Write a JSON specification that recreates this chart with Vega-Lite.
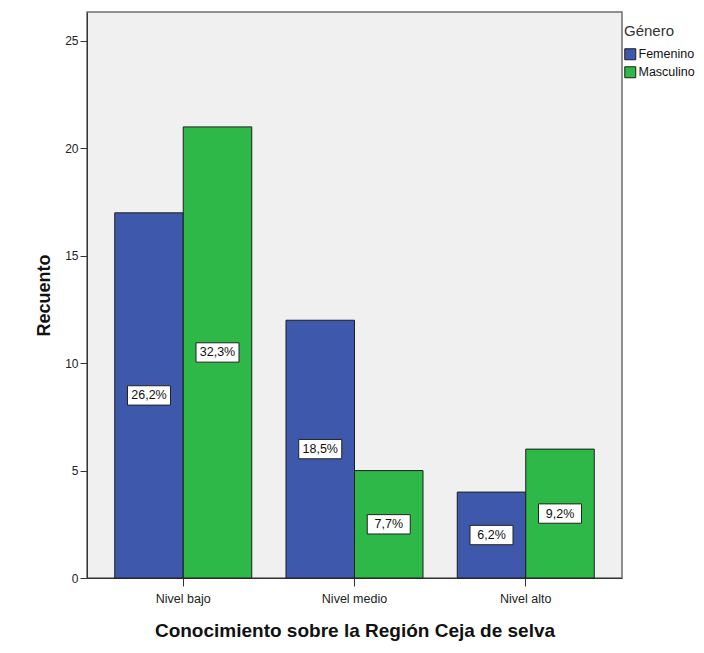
{
  "$schema": "https://vega.github.io/schema/vega-lite/v6.json",
  "autosize": "none",
  "width": 535,
  "height": 566,
  "padding": {"left": 87, "top": 12, "right": 82, "bottom": 75},
  "background": "white",
  "config": {
    "font": "Liberation Sans",
    "view": {"fill": "#f0f0f0", "stroke": "#6e6e6e", "strokeWidth": 1.5},
    "axis": {"grid": false, "domainColor": "#333333", "tickColor": "#333333", "labelColor": "#222222", "labelFont": "Liberation Sans", "titleFont": "Liberation Sans", "titleColor": "#111111"}
  },
  "data": {
    "values": [
      {"nivel": "Nivel bajo", "genero": "Femenino", "recuento": 17, "pct": "26,2%"},
      {"nivel": "Nivel bajo", "genero": "Masculino", "recuento": 21, "pct": "32,3%"},
      {"nivel": "Nivel medio", "genero": "Femenino", "recuento": 12, "pct": "18,5%"},
      {"nivel": "Nivel medio", "genero": "Masculino", "recuento": 5, "pct": "7,7%"},
      {"nivel": "Nivel alto", "genero": "Femenino", "recuento": 4, "pct": "6,2%"},
      {"nivel": "Nivel alto", "genero": "Masculino", "recuento": 6, "pct": "9,2%"}
    ]
  },
  "encoding": {
    "x": {
      "field": "nivel", "type": "nominal",
      "sort": ["Nivel bajo", "Nivel medio", "Nivel alto"],
      "scale": {"paddingInner": 0.2, "paddingOuter": 0.162},
      "axis": {"title": "Conocimiento sobre la Región Ceja de selva", "labelAngle": 0, "labelFontSize": 12.5, "labelPadding": 6, "tickSize": 8, "titleFontSize": 19, "titleFontWeight": "bold", "titlePadding": 17, "domain": true}
    },
    "xOffset": {"field": "genero", "type": "nominal", "sort": ["Femenino", "Masculino"], "scale": {"paddingInner": 0, "paddingOuter": 0}}
  },
  "layer": [
    {
      "mark": {"type": "bar", "stroke": "#1e1e1e", "strokeWidth": 1},
      "encoding": {
        "y": {
          "field": "recuento", "type": "quantitative",
          "scale": {"domain": [0, 26.35], "nice": false},
          "axis": {"title": "Recuento", "values": [0, 5, 10, 15, 20, 25], "labelFontSize": 12, "tickSize": 7, "labelPadding": 2, "titleFontSize": 18, "titleFontWeight": "bold", "titlePadding": 11}
        },
        "color": {
          "field": "genero", "type": "nominal",
          "scale": {"domain": ["Femenino", "Masculino"], "range": ["#3e58ac", "#2eb848"]},
          "legend": {
            "title": "Género", "orient": "none", "legendX": 537, "legendY": 12,
            "titleFontSize": 15, "titleFontWeight": "normal", "titleColor": "#333333", "titlePadding": 9,
            "labelFontSize": 12.5, "labelColor": "#111111", "labelOffset": 2,
            "symbolType": "square", "symbolSize": 121, "symbolStrokeColor": "#1e1e1e", "symbolStrokeWidth": 1, "symbolOpacity": 1,
            "rowPadding": 2, "padding": 0
          }
        }
      }
    },
    {
      "encoding": {
        "y": {"field": "recuento", "type": "quantitative", "scale": {"domain": [0, 52.7], "nice": false}, "axis": null}
      },
      "layer": [
        {
          "mark": {"type": "point", "shape": "M-1,-0.45H1V0.45H-1Z", "size": 1849, "filled": true, "fill": "white", "stroke": "#222222", "strokeWidth": 1, "opacity": 1}
        },
        {
          "mark": {"type": "text", "fontSize": 12.5, "color": "#111111", "baseline": "middle", "align": "center"},
          "encoding": {"text": {"field": "pct"}}
        }
      ]
    }
  ],
  "resolve": {"scale": {"y": "independent"}}
}
